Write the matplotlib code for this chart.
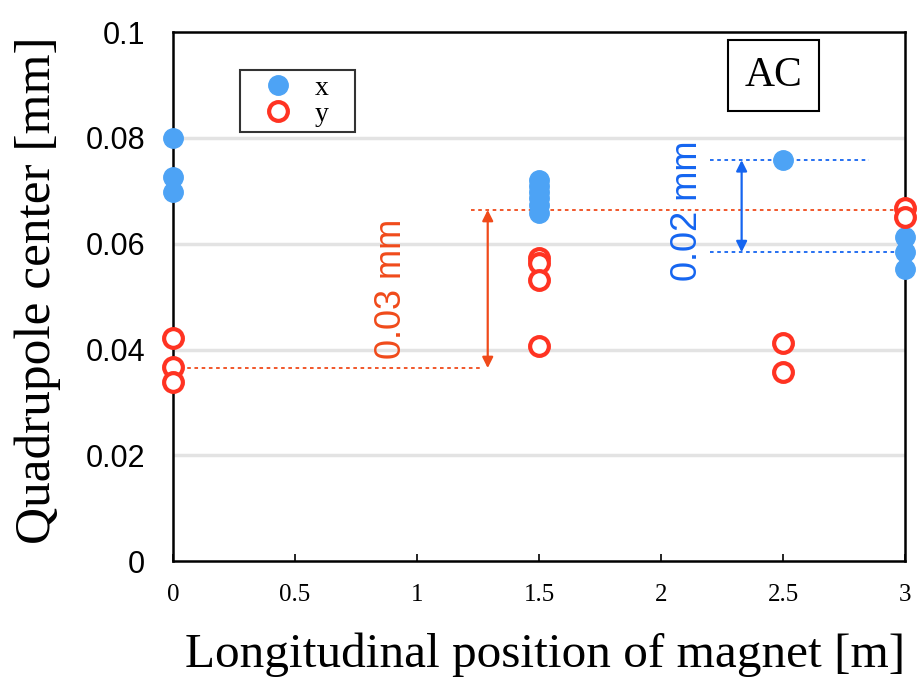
import matplotlib
matplotlib.use("Agg")
import matplotlib.pyplot as plt

# data
pos_x = [0, 0, 0, 1.5, 1.5, 1.5, 1.5, 1.5, 1.5, 2.5, 3, 3, 3]
val_x = [0.0800, 0.0727, 0.0698, 0.0720, 0.0709, 0.0698, 0.0686, 0.0673, 0.0658, 0.0758, 0.0613, 0.0585, 0.0553]
pos_y = [0, 0, 0, 1.5, 1.5, 1.5, 1.5, 2.5, 2.5, 3, 3]
val_y = [0.0422, 0.0367, 0.0339, 0.0573, 0.0564, 0.0531, 0.0406, 0.0413, 0.0358, 0.0667, 0.0651]
xticks = [0, 0.5, 1, 1.5, 2, 2.5, 3]
xtick_labels = ["0", "0.5", "1", "1.5", "2", "2.5", "3"]
yticks = [0, 0.02, 0.04, 0.06, 0.08, 0.1]
ytick_labels = ["0", "0.02", "0.04", "0.06", "0.08", "0.1"]

red_lo, red_hi = 0.0365, 0.0664
blue_lo, blue_hi = 0.0584, 0.0758

BLUE = "#4da3f5"
RED = "#ff3322"
ARED = "#f04a1a"
ABLUE = "#1565f0"

fig = plt.figure(figsize=(9.19, 6.82), dpi=100)
ax = fig.add_axes([0.188, 0.177, 0.797, 0.776])
ax.set_xlim(0, 3)
ax.set_ylim(0, 0.1)

for g in yticks[1:-1]:
    ax.axhline(g, color="#e3e3e3", lw=2.5, zorder=0)

ax.plot(pos_x, val_x, "o", ms=14, color=BLUE, mec=BLUE, label="x", zorder=3, clip_on=False)
ax.plot(pos_y, val_y, "o", ms=13.5, mfc="white", mec=RED, mew=3.0, label="y", zorder=4, clip_on=False)

# red annotation
ax.plot([0.03, 1.27], [red_lo, red_lo], ls=(0, (2, 2)), color=ARED, lw=1.3, zorder=2)
ax.plot([1.22, 3.0], [red_hi, red_hi], ls=(0, (2, 2)), color=ARED, lw=1.3, zorder=2)
ax.annotate("", xy=(1.29, red_hi), xytext=(1.29, red_lo),
            arrowprops=dict(arrowstyle="<|-|>", color=ARED, lw=1.6, mutation_scale=16, shrinkA=0, shrinkB=0))
ax.text(0.895, 0.0515, "0.03 mm", rotation=90, color=ARED,
        fontsize=26, family="Liberation Sans", ha="center", va="center")

# blue annotation
ax.plot([2.2, 2.85], [blue_hi, blue_hi], ls=(0, (2, 2)), color=ABLUE, lw=1.3, zorder=2)
ax.plot([2.2, 3.0], [blue_lo, blue_lo], ls=(0, (2, 2)), color=ABLUE, lw=1.3, zorder=2)
ax.annotate("", xy=(2.33, blue_hi), xytext=(2.33, blue_lo),
            arrowprops=dict(arrowstyle="<|-|>", color=ABLUE, lw=1.6, mutation_scale=16, shrinkA=0, shrinkB=0))
ax.text(2.107, 0.0662, "0.02 mm", rotation=90, color=ABLUE,
        fontsize=26, family="Liberation Sans", ha="center", va="center")

# AC box
ax.text(0.82, 0.918, "AC", transform=ax.transAxes, fontsize=30, family="Liberation Serif",
        ha="center", va="center",
        bbox=dict(boxstyle="square,pad=0.4", fc="white", ec="black", lw=1.5))

leg = ax.legend(loc="upper left", bbox_to_anchor=(0.0915, 0.70, 0.157, 0.228), mode="expand",
                frameon=True, fancybox=False,
                prop=dict(family="Liberation Serif", size=20), handletextpad=0.15,
                borderpad=0.2, labelspacing=0.0, handlelength=2.35, markerscale=1.0,
                borderaxespad=0)
leg.get_frame().set_edgecolor("black")
leg.get_frame().set_linewidth(1.5)

for s in ax.spines.values():
    s.set_linewidth(1.8)
    s.set_color("black")

ax.set_xticks(xticks)
ax.set_xticklabels(xtick_labels, family="Liberation Serif", fontsize=18)
ax.set_yticks(yticks)
ax.set_yticklabels(ytick_labels, family="Liberation Sans", fontsize=22)
ax.tick_params(axis="x", direction="in", length=5, width=1.2, pad=16)
ax.tick_params(axis="y", length=0, pad=20)

fig.text(0.985, 0.04, "Longitudinal position of magnet [m]", ha="right", va="center",
         family="Liberation Serif", fontsize=35.5)
fig.text(0.041, 0.575, "Quadrupole center [mm]", rotation=90, ha="center", va="center",
         family="Liberation Serif", fontsize=37)

fig.savefig("out.png", dpi=100)
